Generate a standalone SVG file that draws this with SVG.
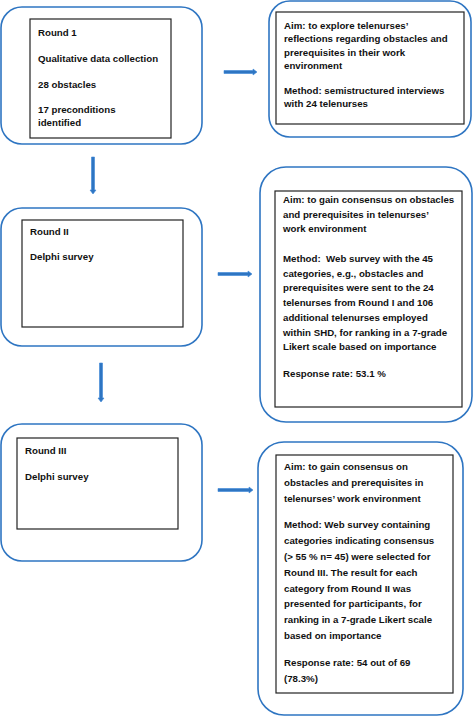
<svg xmlns="http://www.w3.org/2000/svg" width="473" height="716" viewBox="0 0 473 716">
<style>
.outer{fill:#fff;stroke:#2E75C2;stroke-width:1.6}
.inner{fill:#fff;stroke:#222;stroke-width:1.2}
.t{font-family:"Liberation Sans",Arial,sans-serif;font-size:9.7px;font-weight:bold;fill:#111}
.arr{fill:#2E75C2;stroke:#3C86D6;stroke-width:0.6}
</style>
<rect width="473" height="716" fill="#fff"/>
<g id="round1">
<rect class="outer" x="1" y="7" width="201" height="137" rx="21"/>
<rect class="inner" x="30" y="19" width="141" height="119"/>
<text class="t" x="38" y="36">Round 1</text>
<text class="t" x="38" y="62">Qualitative data collection</text>
<text class="t" x="38" y="88">28 obstacles</text>
<text class="t" x="38" y="112.5">17 preconditions</text>
<text class="t" x="38" y="126">identified</text>
</g>
<g id="aim1">
<rect class="outer" x="269" y="1" width="202" height="136" rx="21"/>
<rect class="inner" x="276" y="12" width="188" height="112"/>
<text class="t" x="284" y="28.5">Aim: to explore telenurses’</text>
<text class="t" x="284" y="42">reflections regarding obstacles and</text>
<text class="t" x="284" y="55.5">prerequisites in their work</text>
<text class="t" x="284" y="69">environment</text>
<text class="t" x="284" y="93.5">Method: semistructured interviews</text>
<text class="t" x="284" y="107">with 24 telenurses</text>
</g>
<g id="round2">
<rect class="outer" x="1" y="208" width="201" height="138" rx="21"/>
<rect class="inner" x="22" y="220" width="161" height="107"/>
<text class="t" x="30" y="235">Round II</text>
<text class="t" x="30" y="260">Delphi survey</text>
</g>
<g id="aim2">
<rect class="outer" x="260" y="167" width="212" height="255" rx="26"/>
<rect class="inner" x="275" y="191" width="187" height="216"/>
<text class="t" x="283" y="203">Aim: to gain consensus on obstacles</text>
<text class="t" x="283" y="217.7">and prerequisites in telenurses’</text>
<text class="t" x="283" y="232.4">work environment</text>
<text class="t" x="283" y="262" xml:space="preserve">Method:  Web survey with the 45</text>
<text class="t" x="283" y="276.7">categories, e.g., obstacles and</text>
<text class="t" x="283" y="291.4">prerequisites were sent to the 24</text>
<text class="t" x="283" y="306.1">telenurses from Round I and 106</text>
<text class="t" x="283" y="320.8">additional telenurses employed</text>
<text class="t" x="283" y="335.5">within SHD, for ranking in a 7-grade</text>
<text class="t" x="283" y="350.2">Likert scale based on importance</text>
<text class="t" x="283" y="377">Response rate: 53.1 %</text>
</g>
<g id="round3">
<rect class="outer" x="1" y="424" width="201" height="137" rx="21"/>
<rect class="inner" x="17" y="438" width="161" height="91"/>
<text class="t" x="25" y="454">Round III</text>
<text class="t" x="25" y="480">Delphi survey</text>
</g>
<g id="aim3">
<rect class="outer" x="258" y="442" width="205" height="273" rx="26"/>
<rect class="inner" x="276" y="455" width="177" height="238"/>
<text class="t" x="284" y="470">Aim: to gain consensus on</text>
<text class="t" x="284" y="486">obstacles and prerequisites in</text>
<text class="t" x="284" y="502">telenurses’ work environment</text>
<text class="t" x="284" y="528">Method: Web survey containing</text>
<text class="t" x="284" y="544">categories indicating consensus</text>
<text class="t" x="284" y="560">(&gt; 55 % n= 45) were selected for</text>
<text class="t" x="284" y="576">Round III. The result for each</text>
<text class="t" x="284" y="592">category from Round II was</text>
<text class="t" x="284" y="607">presented for participants, for</text>
<text class="t" x="284" y="623">ranking in a 7-grade Likert scale</text>
<text class="t" x="284" y="639">based on importance</text>
<text class="t" x="284" y="666">Response rate: 54 out of 69</text>
<text class="t" x="284" y="682">(78.3%)</text>
</g>
<g id="connectors">
<polygon class="arr" points="224,70.5 253,70.5 253,69 257,72 253,75 253,73.5 224,73.5"/>
<polygon class="arr" points="218,272.5 248,272.5 248,271 252,274 248,277 248,275.5 218,275.5"/>
<polygon class="arr" points="218,488.5 249,488.5 249,487 253,490 249,493 249,491.5 218,491.5"/>
<polygon class="arr" points="91.5,157 94.5,157 94.5,190 96,190 93,194 90,190 91.5,190"/>
<polygon class="arr" points="99.5,363 102.5,363 102.5,398 104,398 101,402 98,398 99.5,398"/>
</g>
</svg>
